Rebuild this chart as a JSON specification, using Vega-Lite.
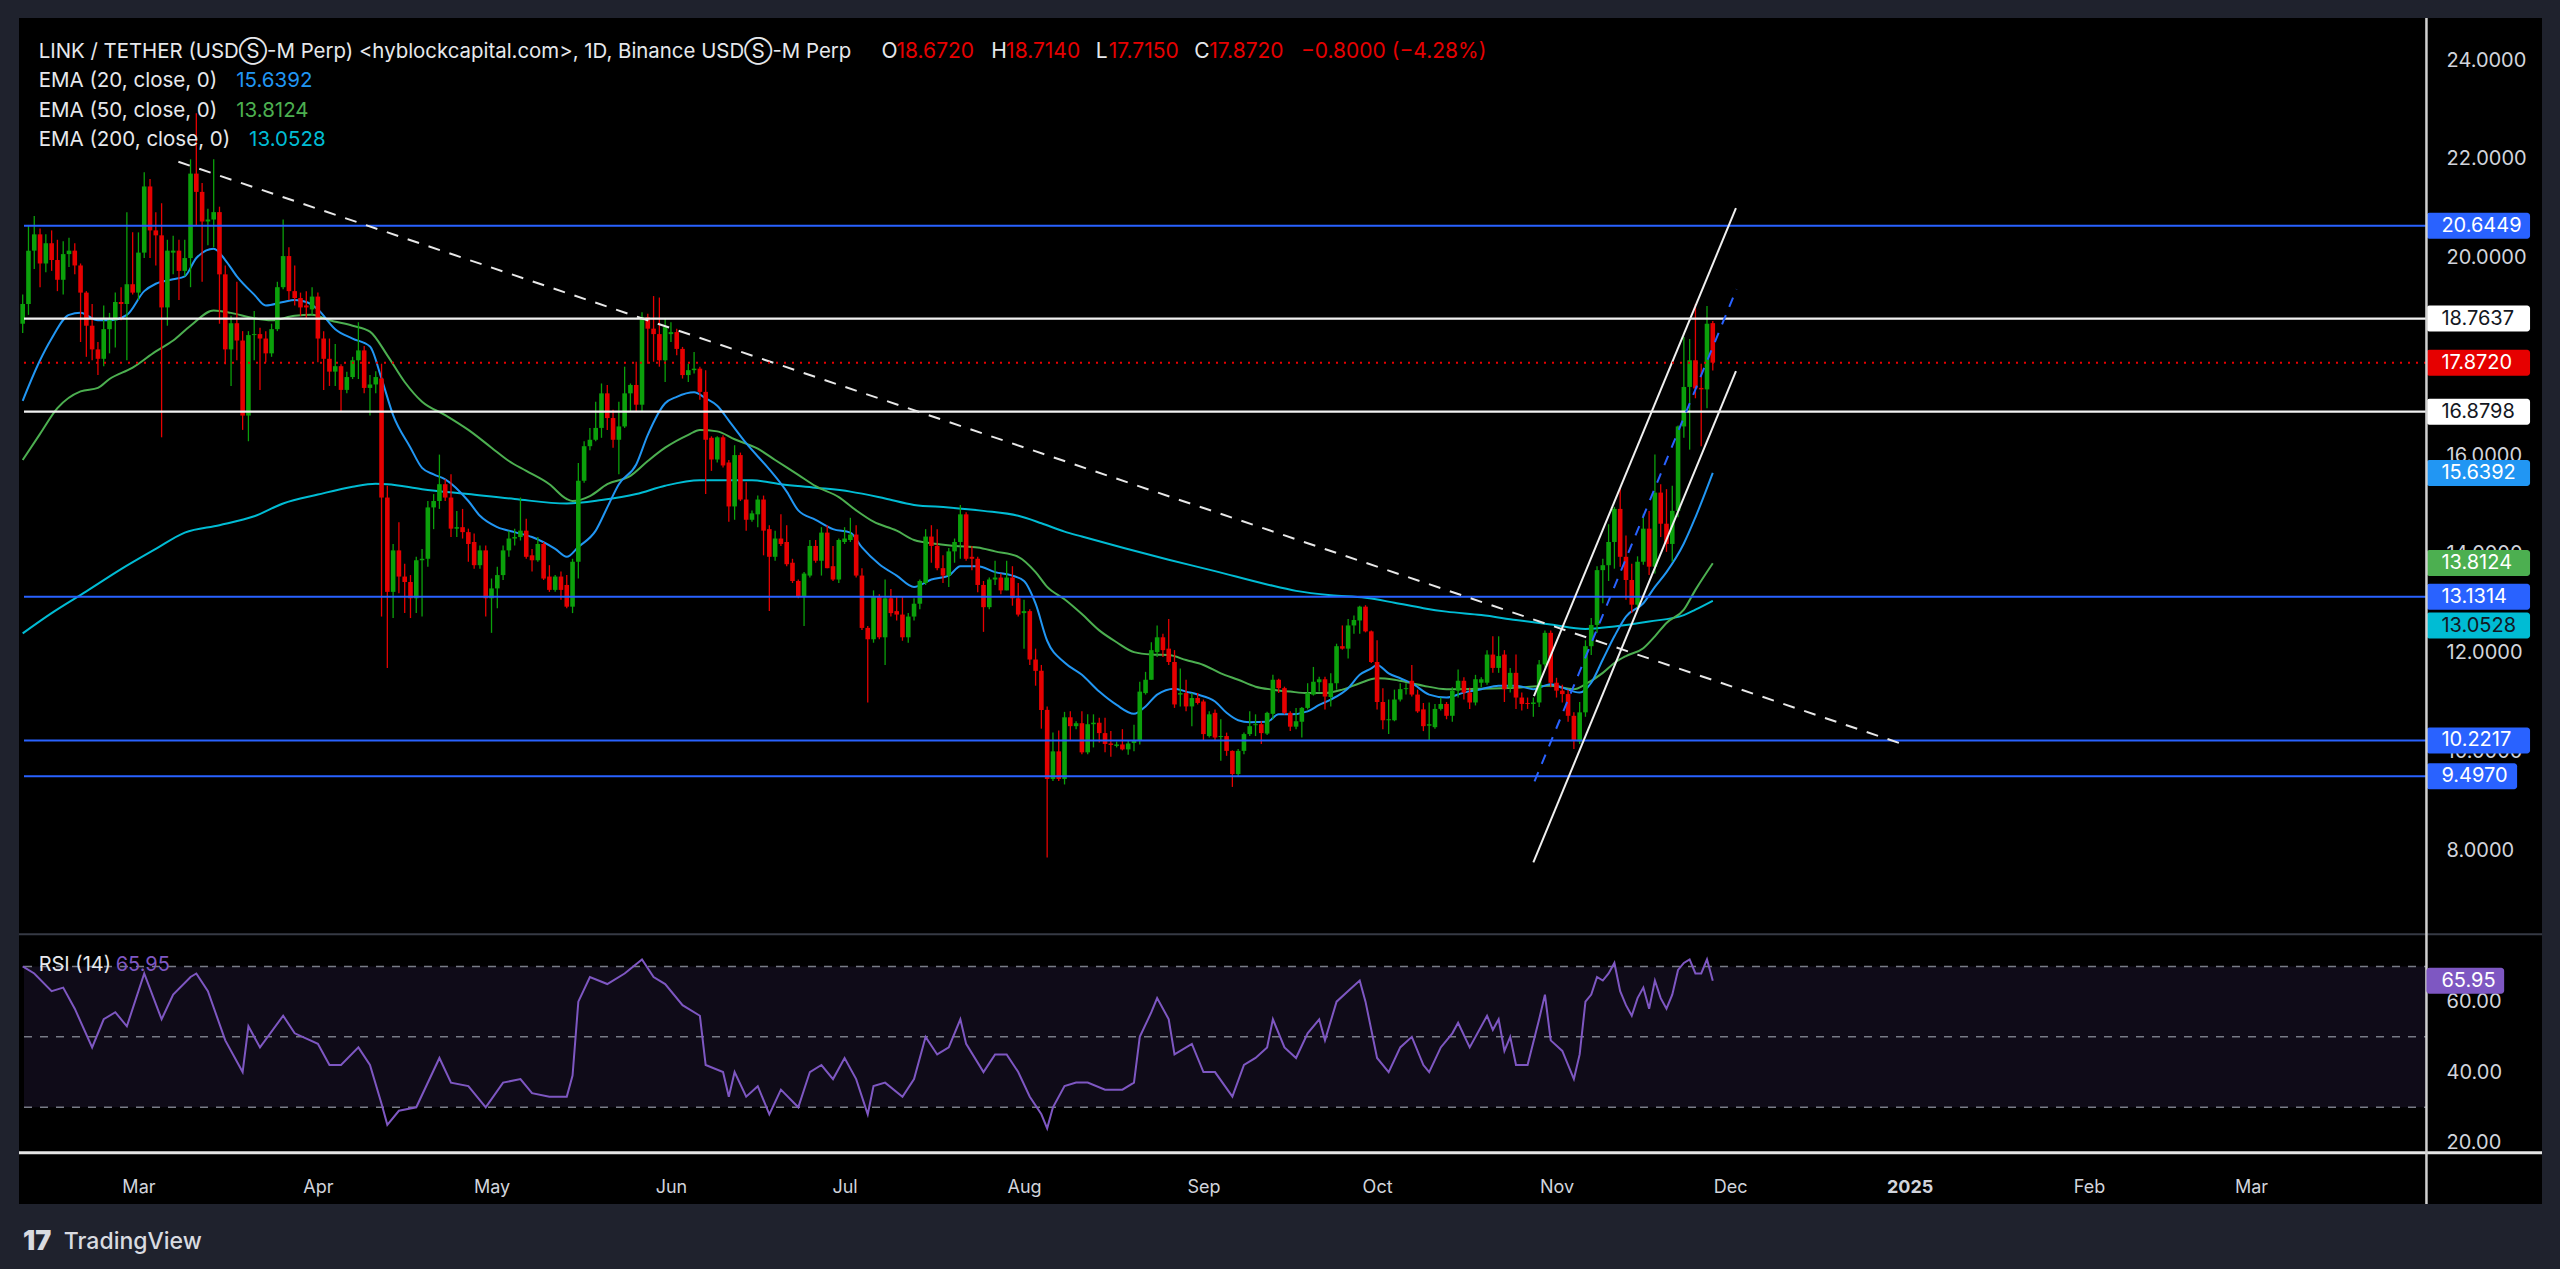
{
"$schema": "https://vega.github.io/schema/vega-lite/v6.json",
"width": 2523, "height": 1186,
"autosize": {"type": "none"},
"padding": {"left": 19, "top": 18, "right": 18, "bottom": 65},
"background": "#1f222d",
"config": {"view": {"fill": "#000000", "stroke": null}, "font": "Inter", "text": {"font": "Inter"}},
"datasets": {
"one": [{}],
"candles": [
{"d":"2024-02-10","o":18.66,"h":19.25,"l":18.47,"c":19.06},
{"d":"2024-02-11","o":19.06,"h":20.66,"l":18.84,"c":20.14},
{"d":"2024-02-12","o":20.14,"h":20.84,"l":19.77,"c":20.47},
{"d":"2024-02-13","o":20.47,"h":20.59,"l":19.40,"c":19.88},
{"d":"2024-02-14","o":19.88,"h":20.47,"l":19.70,"c":20.29},
{"d":"2024-02-15","o":20.29,"h":20.55,"l":19.73,"c":19.95},
{"d":"2024-02-16","o":19.95,"h":20.36,"l":19.32,"c":19.55},
{"d":"2024-02-17","o":19.55,"h":20.33,"l":19.25,"c":20.07},
{"d":"2024-02-18","o":20.07,"h":20.40,"l":19.81,"c":20.14},
{"d":"2024-02-19","o":20.14,"h":20.29,"l":19.66,"c":19.84},
{"d":"2024-02-20","o":19.84,"h":19.88,"l":18.29,"c":19.29},
{"d":"2024-02-21","o":19.29,"h":19.32,"l":17.99,"c":18.62},
{"d":"2024-02-22","o":18.62,"h":19.06,"l":17.92,"c":18.14},
{"d":"2024-02-23","o":18.14,"h":18.29,"l":17.62,"c":17.95},
{"d":"2024-02-24","o":17.95,"h":19.03,"l":17.80,"c":18.55},
{"d":"2024-02-25","o":18.55,"h":18.88,"l":18.06,"c":18.73},
{"d":"2024-02-26","o":18.73,"h":19.29,"l":18.18,"c":19.10},
{"d":"2024-02-27","o":19.10,"h":19.40,"l":18.73,"c":19.06},
{"d":"2024-02-28","o":19.06,"h":20.92,"l":17.92,"c":19.46},
{"d":"2024-02-29","o":19.46,"h":20.51,"l":19.25,"c":19.29},
{"d":"2024-03-01","o":19.29,"h":20.51,"l":19.14,"c":20.10},
{"d":"2024-03-02","o":20.10,"h":21.73,"l":19.99,"c":21.44},
{"d":"2024-03-03","o":21.44,"h":21.59,"l":19.99,"c":20.55},
{"d":"2024-03-04","o":20.55,"h":20.92,"l":19.84,"c":20.45},
{"d":"2024-03-05","o":20.45,"h":21.10,"l":16.36,"c":18.99},
{"d":"2024-03-06","o":18.99,"h":20.36,"l":18.62,"c":20.14},
{"d":"2024-03-07","o":20.10,"h":20.44,"l":19.66,"c":20.14},
{"d":"2024-03-08","o":20.14,"h":20.36,"l":19.14,"c":19.73},
{"d":"2024-03-09","o":19.73,"h":20.36,"l":19.62,"c":19.99},
{"d":"2024-03-10","o":19.99,"h":21.99,"l":19.40,"c":21.70},
{"d":"2024-03-11","o":21.70,"h":22.92,"l":20.66,"c":21.33},
{"d":"2024-03-12","o":21.33,"h":21.51,"l":19.51,"c":20.73},
{"d":"2024-03-13","o":20.73,"h":20.99,"l":20.25,"c":20.77},
{"d":"2024-03-14","o":20.77,"h":21.99,"l":20.21,"c":20.92},
{"d":"2024-03-15","o":20.92,"h":21.03,"l":18.66,"c":19.66},
{"d":"2024-03-16","o":19.66,"h":19.84,"l":17.84,"c":18.14},
{"d":"2024-03-17","o":18.14,"h":18.82,"l":17.40,"c":18.67},
{"d":"2024-03-18","o":18.67,"h":19.51,"l":17.92,"c":18.32},
{"d":"2024-03-19","o":18.32,"h":18.51,"l":16.51,"c":16.80},
{"d":"2024-03-20","o":16.80,"h":18.51,"l":16.28,"c":18.43},
{"d":"2024-03-21","o":18.43,"h":18.92,"l":17.92,"c":18.45},
{"d":"2024-03-22","o":18.45,"h":18.58,"l":17.32,"c":18.36},
{"d":"2024-03-23","o":18.36,"h":18.51,"l":17.88,"c":18.06},
{"d":"2024-03-24","o":18.06,"h":18.66,"l":17.99,"c":18.55},
{"d":"2024-03-25","o":18.55,"h":19.51,"l":18.51,"c":19.40},
{"d":"2024-03-26","o":19.40,"h":20.77,"l":19.36,"c":20.03},
{"d":"2024-03-27","o":20.03,"h":20.21,"l":19.14,"c":19.32},
{"d":"2024-03-28","o":19.32,"h":19.84,"l":19.03,"c":19.18},
{"d":"2024-03-29","o":19.18,"h":19.29,"l":18.82,"c":18.99},
{"d":"2024-03-30","o":19.03,"h":19.32,"l":18.77,"c":18.99},
{"d":"2024-03-31","o":18.95,"h":19.40,"l":18.84,"c":19.21},
{"d":"2024-04-01","o":19.21,"h":19.29,"l":17.88,"c":18.36},
{"d":"2024-04-02","o":18.36,"h":18.51,"l":17.32,"c":17.95},
{"d":"2024-04-03","o":17.95,"h":18.36,"l":17.40,"c":17.69},
{"d":"2024-04-04","o":17.69,"h":18.25,"l":17.40,"c":17.80},
{"d":"2024-04-05","o":17.80,"h":17.84,"l":16.88,"c":17.32},
{"d":"2024-04-06","o":17.32,"h":17.69,"l":17.25,"c":17.58},
{"d":"2024-04-07","o":17.58,"h":17.99,"l":17.54,"c":17.92},
{"d":"2024-04-08","o":17.92,"h":18.69,"l":17.54,"c":18.12},
{"d":"2024-04-09","o":18.12,"h":18.21,"l":17.25,"c":17.36},
{"d":"2024-04-10","o":17.36,"h":17.62,"l":16.80,"c":17.43},
{"d":"2024-04-11","o":17.43,"h":17.70,"l":17.25,"c":17.58},
{"d":"2024-04-12","o":17.55,"h":17.85,"l":12.73,"c":15.14},
{"d":"2024-04-13","o":15.14,"h":15.38,"l":11.69,"c":13.23},
{"d":"2024-04-14","o":13.23,"h":14.20,"l":12.70,"c":14.07},
{"d":"2024-04-15","o":14.07,"h":14.64,"l":13.20,"c":13.54},
{"d":"2024-04-16","o":13.54,"h":13.80,"l":12.80,"c":13.43},
{"d":"2024-04-17","o":13.43,"h":13.57,"l":12.70,"c":13.10},
{"d":"2024-04-18","o":13.10,"h":13.94,"l":12.80,"c":13.87},
{"d":"2024-04-19","o":13.87,"h":14.10,"l":12.73,"c":13.90},
{"d":"2024-04-20","o":13.90,"h":15.07,"l":13.74,"c":14.94},
{"d":"2024-04-21","o":14.94,"h":15.21,"l":14.50,"c":15.07},
{"d":"2024-04-22","o":15.07,"h":16.01,"l":14.91,"c":15.41},
{"d":"2024-04-23","o":15.41,"h":15.51,"l":15.07,"c":15.14},
{"d":"2024-04-24","o":15.14,"h":15.61,"l":14.34,"c":14.51},
{"d":"2024-04-25","o":14.51,"h":14.87,"l":14.34,"c":14.54},
{"d":"2024-04-26","o":14.54,"h":14.91,"l":14.31,"c":14.44},
{"d":"2024-04-27","o":14.44,"h":14.51,"l":13.84,"c":14.20},
{"d":"2024-04-28","o":14.24,"h":14.41,"l":13.70,"c":13.77},
{"d":"2024-04-29","o":13.77,"h":14.17,"l":13.70,"c":14.07},
{"d":"2024-04-30","o":14.07,"h":14.17,"l":12.73,"c":13.10},
{"d":"2024-05-01","o":13.10,"h":13.50,"l":12.40,"c":13.30},
{"d":"2024-05-02","o":13.30,"h":13.74,"l":12.90,"c":13.57},
{"d":"2024-05-03","o":13.57,"h":14.17,"l":13.47,"c":14.07},
{"d":"2024-05-04","o":14.07,"h":14.47,"l":13.94,"c":14.31},
{"d":"2024-05-05","o":14.31,"h":14.51,"l":14.17,"c":14.34},
{"d":"2024-05-06","o":14.34,"h":15.14,"l":14.27,"c":14.47},
{"d":"2024-05-07","o":14.47,"h":14.71,"l":13.90,"c":13.94},
{"d":"2024-05-08","o":13.97,"h":14.10,"l":13.64,"c":13.87},
{"d":"2024-05-09","o":13.87,"h":14.34,"l":13.84,"c":14.20},
{"d":"2024-05-10","o":14.20,"h":14.24,"l":13.47,"c":13.50},
{"d":"2024-05-11","o":13.54,"h":13.77,"l":13.23,"c":13.27},
{"d":"2024-05-12","o":13.27,"h":13.57,"l":13.23,"c":13.54},
{"d":"2024-05-13","o":13.54,"h":13.64,"l":13.07,"c":13.27},
{"d":"2024-05-14","o":13.37,"h":13.57,"l":12.90,"c":12.93},
{"d":"2024-05-15","o":12.93,"h":13.90,"l":12.80,"c":13.84},
{"d":"2024-05-16","o":13.84,"h":15.84,"l":13.50,"c":15.48},
{"d":"2024-05-17","o":15.48,"h":16.28,"l":15.44,"c":16.18},
{"d":"2024-05-18","o":16.18,"h":16.55,"l":16.10,"c":16.31},
{"d":"2024-05-19","o":16.31,"h":17.08,"l":16.28,"c":16.55},
{"d":"2024-05-20","o":16.55,"h":17.45,"l":16.35,"c":17.25},
{"d":"2024-05-21","o":17.25,"h":17.42,"l":16.51,"c":16.75},
{"d":"2024-05-22","o":16.75,"h":16.92,"l":16.15,"c":16.31},
{"d":"2024-05-23","o":16.31,"h":17.08,"l":15.61,"c":16.58},
{"d":"2024-05-24","o":16.58,"h":17.79,"l":16.55,"c":17.25},
{"d":"2024-05-25","o":17.25,"h":17.45,"l":16.88,"c":17.42},
{"d":"2024-05-26","o":17.42,"h":17.89,"l":16.88,"c":17.02},
{"d":"2024-05-27","o":17.02,"h":18.89,"l":16.88,"c":18.79},
{"d":"2024-05-28","o":18.79,"h":18.86,"l":17.85,"c":18.56},
{"d":"2024-05-29","o":18.56,"h":19.22,"l":17.89,"c":18.45},
{"d":"2024-05-30","o":18.45,"h":19.19,"l":17.79,"c":17.92},
{"d":"2024-05-31","o":17.92,"h":18.76,"l":17.48,"c":18.59},
{"d":"2024-06-01","o":18.45,"h":18.69,"l":18.29,"c":18.49},
{"d":"2024-06-02","o":18.49,"h":18.56,"l":18.02,"c":18.15},
{"d":"2024-06-03","o":18.15,"h":18.19,"l":17.55,"c":17.62},
{"d":"2024-06-04","o":17.62,"h":17.85,"l":17.48,"c":17.72},
{"d":"2024-06-05","o":17.72,"h":18.09,"l":17.65,"c":17.75},
{"d":"2024-06-06","o":17.75,"h":17.79,"l":17.12,"c":17.28},
{"d":"2024-06-07","o":17.28,"h":17.72,"l":15.21,"c":16.31},
{"d":"2024-06-08","o":16.35,"h":16.38,"l":15.68,"c":15.91},
{"d":"2024-06-09","o":15.91,"h":16.38,"l":15.85,"c":16.36},
{"d":"2024-06-10","o":16.36,"h":16.40,"l":15.75,"c":15.79},
{"d":"2024-06-11","o":15.85,"h":15.90,"l":14.65,"c":14.96},
{"d":"2024-06-12","o":14.96,"h":16.20,"l":14.69,"c":16.00},
{"d":"2024-06-13","o":16.00,"h":16.05,"l":15.07,"c":15.10},
{"d":"2024-06-14","o":15.10,"h":15.45,"l":14.47,"c":14.69},
{"d":"2024-06-15","o":14.69,"h":14.88,"l":14.65,"c":14.82},
{"d":"2024-06-16","o":14.80,"h":15.18,"l":14.54,"c":15.10},
{"d":"2024-06-17","o":15.10,"h":15.18,"l":13.97,"c":14.47},
{"d":"2024-06-18","o":14.50,"h":14.58,"l":12.84,"c":13.94},
{"d":"2024-06-19","o":13.94,"h":14.47,"l":13.86,"c":14.31},
{"d":"2024-06-20","o":14.31,"h":14.80,"l":14.16,"c":14.20},
{"d":"2024-06-21","o":14.24,"h":14.58,"l":13.75,"c":13.79},
{"d":"2024-06-22","o":13.82,"h":13.90,"l":13.41,"c":13.45},
{"d":"2024-06-23","o":13.45,"h":13.48,"l":13.10,"c":13.14},
{"d":"2024-06-24","o":13.14,"h":13.63,"l":12.54,"c":13.60},
{"d":"2024-06-25","o":13.56,"h":14.28,"l":13.52,"c":14.16},
{"d":"2024-06-26","o":14.16,"h":14.28,"l":13.82,"c":13.86},
{"d":"2024-06-27","o":13.86,"h":14.54,"l":13.56,"c":14.43},
{"d":"2024-06-28","o":14.43,"h":14.58,"l":13.71,"c":13.71},
{"d":"2024-06-29","o":13.75,"h":14.16,"l":13.45,"c":13.48},
{"d":"2024-06-30","o":13.48,"h":14.31,"l":13.41,"c":14.28},
{"d":"2024-07-01","o":14.24,"h":14.54,"l":14.20,"c":14.31},
{"d":"2024-07-02","o":14.28,"h":14.73,"l":14.24,"c":14.39},
{"d":"2024-07-03","o":14.39,"h":14.58,"l":13.52,"c":13.56},
{"d":"2024-07-04","o":13.56,"h":13.71,"l":12.46,"c":12.50},
{"d":"2024-07-05","o":12.50,"h":12.54,"l":10.99,"c":12.27},
{"d":"2024-07-06","o":12.27,"h":13.26,"l":12.20,"c":13.14},
{"d":"2024-07-07","o":13.14,"h":13.18,"l":12.27,"c":12.31},
{"d":"2024-07-08","o":12.31,"h":13.48,"l":11.75,"c":13.10},
{"d":"2024-07-09","o":13.10,"h":13.29,"l":12.73,"c":12.80},
{"d":"2024-07-10","o":12.84,"h":13.14,"l":12.65,"c":12.77},
{"d":"2024-07-11","o":12.77,"h":13.14,"l":12.24,"c":12.31},
{"d":"2024-07-12","o":12.31,"h":12.80,"l":12.20,"c":12.73},
{"d":"2024-07-13","o":12.73,"h":13.10,"l":12.65,"c":12.99},
{"d":"2024-07-14","o":12.99,"h":13.48,"l":12.88,"c":13.45},
{"d":"2024-07-15","o":13.41,"h":14.50,"l":13.37,"c":14.35},
{"d":"2024-07-16","o":14.35,"h":14.58,"l":13.82,"c":14.16},
{"d":"2024-07-17","o":14.16,"h":14.50,"l":13.67,"c":13.71},
{"d":"2024-07-18","o":13.71,"h":13.97,"l":13.41,"c":13.56},
{"d":"2024-07-19","o":13.56,"h":14.12,"l":13.33,"c":14.05},
{"d":"2024-07-20","o":14.05,"h":14.31,"l":13.82,"c":14.24},
{"d":"2024-07-21","o":14.24,"h":14.99,"l":13.90,"c":14.80},
{"d":"2024-07-22","o":14.80,"h":14.84,"l":13.86,"c":13.90},
{"d":"2024-07-23","o":13.94,"h":14.16,"l":13.67,"c":13.90},
{"d":"2024-07-24","o":13.90,"h":13.94,"l":13.22,"c":13.37},
{"d":"2024-07-25","o":13.37,"h":13.45,"l":12.42,"c":12.92},
{"d":"2024-07-26","o":12.92,"h":13.52,"l":12.88,"c":13.48},
{"d":"2024-07-27","o":13.48,"h":13.86,"l":13.37,"c":13.52},
{"d":"2024-07-28","o":13.52,"h":13.60,"l":13.18,"c":13.26},
{"d":"2024-07-29","o":13.26,"h":13.86,"l":13.26,"c":13.52},
{"d":"2024-07-30","o":13.52,"h":13.75,"l":12.95,"c":13.10},
{"d":"2024-07-31","o":13.10,"h":13.41,"l":12.73,"c":12.77},
{"d":"2024-08-01","o":12.80,"h":13.07,"l":12.08,"c":12.84},
{"d":"2024-08-02","o":12.84,"h":12.88,"l":11.75,"c":11.86},
{"d":"2024-08-03","o":11.86,"h":12.08,"l":11.33,"c":11.63},
{"d":"2024-08-04","o":11.63,"h":11.75,"l":10.46,"c":10.84},
{"d":"2024-08-05","o":10.84,"h":10.91,"l":7.85,"c":9.44},
{"d":"2024-08-06","o":9.44,"h":10.38,"l":9.40,"c":10.00},
{"d":"2024-08-07","o":10.00,"h":10.42,"l":9.40,"c":9.44},
{"d":"2024-08-08","o":9.44,"h":10.80,"l":9.33,"c":10.69},
{"d":"2024-08-09","o":10.69,"h":10.81,"l":10.21,"c":10.51},
{"d":"2024-08-10","o":10.51,"h":10.61,"l":10.45,"c":10.57},
{"d":"2024-08-11","o":10.57,"h":10.81,"l":9.94,"c":9.98},
{"d":"2024-08-12","o":9.98,"h":10.75,"l":9.94,"c":10.55},
{"d":"2024-08-13","o":10.55,"h":10.75,"l":10.08,"c":10.58},
{"d":"2024-08-14","o":10.58,"h":10.68,"l":10.18,"c":10.37},
{"d":"2024-08-15","o":10.37,"h":10.68,"l":9.98,"c":10.15},
{"d":"2024-08-16","o":10.16,"h":10.41,"l":9.89,"c":10.13},
{"d":"2024-08-17","o":10.11,"h":10.20,"l":10.08,"c":10.14},
{"d":"2024-08-18","o":10.14,"h":10.45,"l":10.02,"c":10.04},
{"d":"2024-08-19","o":10.04,"h":10.22,"l":9.93,"c":10.16},
{"d":"2024-08-20","o":10.17,"h":10.54,"l":10.00,"c":10.22},
{"d":"2024-08-21","o":10.22,"h":11.41,"l":10.14,"c":11.21},
{"d":"2024-08-22","o":11.18,"h":11.61,"l":11.15,"c":11.45},
{"d":"2024-08-23","o":11.45,"h":12.21,"l":11.45,"c":12.05},
{"d":"2024-08-24","o":12.01,"h":12.55,"l":11.91,"c":12.31},
{"d":"2024-08-25","o":12.31,"h":12.38,"l":11.91,"c":12.05},
{"d":"2024-08-26","o":12.08,"h":12.68,"l":11.75,"c":11.81},
{"d":"2024-08-27","o":11.81,"h":12.05,"l":10.88,"c":10.95},
{"d":"2024-08-28","o":11.15,"h":11.68,"l":10.91,"c":11.18},
{"d":"2024-08-29","o":11.18,"h":11.45,"l":10.81,"c":10.91},
{"d":"2024-08-30","o":10.91,"h":11.18,"l":10.51,"c":11.08},
{"d":"2024-08-31","o":11.08,"h":11.18,"l":10.95,"c":10.98},
{"d":"2024-09-01","o":11.01,"h":11.05,"l":10.23,"c":10.35},
{"d":"2024-09-02","o":10.31,"h":10.81,"l":10.28,"c":10.75},
{"d":"2024-09-03","o":10.78,"h":10.85,"l":10.21,"c":10.28},
{"d":"2024-09-04","o":10.29,"h":10.65,"l":9.81,"c":10.31},
{"d":"2024-09-05","o":10.31,"h":10.38,"l":9.91,"c":10.01},
{"d":"2024-09-06","o":10.01,"h":10.02,"l":9.28,"c":9.54},
{"d":"2024-09-07","o":9.54,"h":10.05,"l":9.50,"c":10.01},
{"d":"2024-09-08","o":10.01,"h":10.38,"l":9.94,"c":10.35},
{"d":"2024-09-09","o":10.35,"h":10.81,"l":10.31,"c":10.51},
{"d":"2024-09-10","o":10.53,"h":10.75,"l":10.31,"c":10.55},
{"d":"2024-09-11","o":10.55,"h":10.61,"l":10.15,"c":10.37},
{"d":"2024-09-12","o":10.36,"h":10.80,"l":10.33,"c":10.78},
{"d":"2024-09-13","o":10.76,"h":11.55,"l":10.65,"c":11.45},
{"d":"2024-09-14","o":11.45,"h":11.47,"l":11.18,"c":11.28},
{"d":"2024-09-15","o":11.28,"h":11.31,"l":10.75,"c":10.78},
{"d":"2024-09-16","o":10.78,"h":10.81,"l":10.41,"c":10.50},
{"d":"2024-09-17","o":10.50,"h":10.88,"l":10.45,"c":10.61},
{"d":"2024-09-18","o":10.60,"h":10.90,"l":10.28,"c":10.88},
{"d":"2024-09-19","o":10.88,"h":11.38,"l":10.85,"c":11.18},
{"d":"2024-09-20","o":11.15,"h":11.71,"l":11.13,"c":11.41},
{"d":"2024-09-21","o":11.40,"h":11.51,"l":11.21,"c":11.46},
{"d":"2024-09-22","o":11.46,"h":11.51,"l":10.85,"c":11.11},
{"d":"2024-09-23","o":11.10,"h":11.58,"l":10.91,"c":11.38},
{"d":"2024-09-24","o":11.38,"h":12.18,"l":11.25,"c":12.13},
{"d":"2024-09-25","o":12.13,"h":12.55,"l":12.06,"c":12.08},
{"d":"2024-09-26","o":12.08,"h":12.68,"l":11.88,"c":12.55},
{"d":"2024-09-27","o":12.55,"h":12.75,"l":12.38,"c":12.66},
{"d":"2024-09-28","o":12.65,"h":12.95,"l":12.38,"c":12.93},
{"d":"2024-09-29","o":12.93,"h":12.96,"l":12.41,"c":12.43},
{"d":"2024-09-30","o":12.43,"h":12.45,"l":11.79,"c":11.81},
{"d":"2024-10-01","o":11.81,"h":12.25,"l":10.85,"c":11.00},
{"d":"2024-10-02","o":11.00,"h":11.28,"l":10.45,"c":10.63},
{"d":"2024-10-03","o":10.63,"h":11.05,"l":10.35,"c":10.65},
{"d":"2024-10-04","o":10.63,"h":11.25,"l":10.61,"c":11.05},
{"d":"2024-10-05","o":11.05,"h":11.38,"l":11.01,"c":11.26},
{"d":"2024-10-06","o":11.26,"h":11.38,"l":11.15,"c":11.28},
{"d":"2024-10-07","o":11.43,"h":11.75,"l":11.11,"c":11.15},
{"d":"2024-10-08","o":11.15,"h":11.25,"l":10.78,"c":10.81},
{"d":"2024-10-09","o":10.85,"h":10.98,"l":10.41,"c":10.51},
{"d":"2024-10-10","o":10.52,"h":10.99,"l":10.22,"c":10.55},
{"d":"2024-10-11","o":10.49,"h":10.96,"l":10.46,"c":10.86},
{"d":"2024-10-12","o":10.86,"h":11.09,"l":10.83,"c":10.96},
{"d":"2024-10-13","o":10.96,"h":11.00,"l":10.65,"c":10.72},
{"d":"2024-10-14","o":10.72,"h":11.30,"l":10.60,"c":11.23},
{"d":"2024-10-15","o":11.23,"h":11.66,"l":11.09,"c":11.43},
{"d":"2024-10-16","o":11.43,"h":11.50,"l":11.05,"c":11.19},
{"d":"2024-10-17","o":11.19,"h":11.29,"l":10.86,"c":10.99},
{"d":"2024-10-18","o":10.99,"h":11.55,"l":10.93,"c":11.46},
{"d":"2024-10-19","o":11.39,"h":11.50,"l":11.30,"c":11.46},
{"d":"2024-10-20","o":11.39,"h":12.05,"l":11.35,"c":11.96},
{"d":"2024-10-21","o":11.96,"h":12.33,"l":11.59,"c":11.69},
{"d":"2024-10-22","o":11.69,"h":12.33,"l":11.59,"c":11.93},
{"d":"2024-10-23","o":11.96,"h":12.05,"l":11.00,"c":11.26},
{"d":"2024-10-24","o":11.29,"h":11.69,"l":11.19,"c":11.59},
{"d":"2024-10-25","o":11.59,"h":11.96,"l":10.86,"c":11.09},
{"d":"2024-10-26","o":11.09,"h":11.19,"l":10.83,"c":10.96},
{"d":"2024-10-27","o":10.98,"h":11.09,"l":10.86,"c":10.96},
{"d":"2024-10-28","o":10.96,"h":11.09,"l":10.70,"c":10.99},
{"d":"2024-10-29","o":10.99,"h":11.85,"l":10.90,"c":11.76},
{"d":"2024-10-30","o":11.76,"h":12.45,"l":11.70,"c":12.40},
{"d":"2024-10-31","o":12.40,"h":12.45,"l":11.30,"c":11.39},
{"d":"2024-11-01","o":11.39,"h":11.49,"l":11.09,"c":11.23},
{"d":"2024-11-02","o":11.23,"h":11.35,"l":10.99,"c":11.16},
{"d":"2024-11-03","o":11.16,"h":11.25,"l":10.60,"c":10.72},
{"d":"2024-11-04","o":10.72,"h":10.79,"l":10.05,"c":10.22},
{"d":"2024-11-05","o":10.20,"h":11.00,"l":10.15,"c":10.79},
{"d":"2024-11-06","o":10.79,"h":12.25,"l":10.70,"c":12.13},
{"d":"2024-11-07","o":12.13,"h":12.70,"l":11.95,"c":12.56},
{"d":"2024-11-08","o":12.56,"h":13.75,"l":12.40,"c":13.67},
{"d":"2024-11-09","o":13.67,"h":13.90,"l":13.00,"c":13.77},
{"d":"2024-11-10","o":13.77,"h":14.60,"l":13.45,"c":14.24},
{"d":"2024-11-11","o":14.24,"h":14.95,"l":13.70,"c":14.91},
{"d":"2024-11-12","o":14.91,"h":15.34,"l":13.74,"c":13.94},
{"d":"2024-11-13","o":13.94,"h":14.37,"l":13.07,"c":13.47},
{"d":"2024-11-14","o":13.47,"h":13.80,"l":12.80,"c":12.97},
{"d":"2024-11-15","o":12.97,"h":13.95,"l":12.90,"c":13.84},
{"d":"2024-11-16","o":13.84,"h":14.81,"l":13.78,"c":14.51},
{"d":"2024-11-17","o":14.51,"h":14.87,"l":13.57,"c":13.74},
{"d":"2024-11-18","o":13.74,"h":16.01,"l":13.60,"c":15.24},
{"d":"2024-11-19","o":15.24,"h":15.41,"l":14.34,"c":14.61},
{"d":"2024-11-20","o":14.61,"h":15.31,"l":14.04,"c":14.20},
{"d":"2024-11-21","o":14.20,"h":15.38,"l":13.84,"c":14.87},
{"d":"2024-11-22","o":14.87,"h":16.60,"l":14.74,"c":16.58},
{"d":"2024-11-23","o":16.58,"h":18.39,"l":16.35,"c":17.38},
{"d":"2024-11-24","o":17.38,"h":18.35,"l":16.11,"c":17.92},
{"d":"2024-11-25","o":17.92,"h":19.06,"l":17.15,"c":17.35},
{"d":"2024-11-26","o":17.36,"h":17.85,"l":16.18,"c":17.33},
{"d":"2024-11-27","o":17.33,"h":19.02,"l":16.95,"c":18.66},
{"d":"2024-11-28","o":18.672,"h":18.714,"l":17.715,"c":17.872}
],
"ema20": [
{"d":"2024-02-10","v":17.1},{"d":"2024-02-13","v":17.92},{"d":"2024-02-15","v":18.36},{"d":"2024-02-18","v":18.84},{"d":"2024-02-20","v":18.88},{"d":"2024-02-23","v":18.73},{"d":"2024-02-25","v":18.73},{"d":"2024-02-28","v":18.84},{"d":"2024-03-02","v":19.32},{"d":"2024-03-04","v":19.47},{"d":"2024-03-07","v":19.56},{"d":"2024-03-09","v":19.62},{"d":"2024-03-11","v":19.99},{"d":"2024-03-14","v":20.18},{"d":"2024-03-16","v":19.95},{"d":"2024-03-18","v":19.62},{"d":"2024-03-21","v":19.25},{"d":"2024-03-23","v":19.03},{"d":"2024-03-26","v":19.10},{"d":"2024-03-28","v":19.14},{"d":"2024-03-30","v":19.10},{"d":"2024-04-01","v":18.95},{"d":"2024-04-04","v":18.55},{"d":"2024-04-07","v":18.36},{"d":"2024-04-10","v":18.2},{"d":"2024-04-12","v":17.55},{"d":"2024-04-14","v":16.81},{"d":"2024-04-17","v":16.15},{"d":"2024-04-19","v":15.74},{"d":"2024-04-21","v":15.61},{"d":"2024-04-23","v":15.51},{"d":"2024-04-27","v":15.07},{"d":"2024-04-29","v":14.77},{"d":"2024-05-02","v":14.54},{"d":"2024-05-05","v":14.44},{"d":"2024-05-08","v":14.34},{"d":"2024-05-12","v":14.1},{"d":"2024-05-14","v":13.94},{"d":"2024-05-16","v":14.14},{"d":"2024-05-19","v":14.47},{"d":"2024-05-21","v":14.94},{"d":"2024-05-23","v":15.41},{"d":"2024-05-26","v":15.81},{"d":"2024-05-28","v":16.41},{"d":"2024-05-31","v":17.05},{"d":"2024-06-02","v":17.18},{"d":"2024-06-05","v":17.27},{"d":"2024-06-07","v":17.15},{"d":"2024-06-09","v":17.0},{"d":"2024-06-11","v":16.7},{"d":"2024-06-14","v":16.24},{"d":"2024-06-18","v":15.71},{"d":"2024-06-21","v":15.26},{"d":"2024-06-23","v":14.88},{"d":"2024-06-26","v":14.69},{"d":"2024-06-29","v":14.5},{"d":"2024-07-02","v":14.43},{"d":"2024-07-04","v":14.13},{"d":"2024-07-07","v":13.79},{"d":"2024-07-10","v":13.56},{"d":"2024-07-13","v":13.33},{"d":"2024-07-16","v":13.48},{"d":"2024-07-19","v":13.56},{"d":"2024-07-21","v":13.75},{"d":"2024-07-24","v":13.75},{"d":"2024-07-27","v":13.63},{"d":"2024-07-30","v":13.56},{"d":"2024-08-01","v":13.45},{"d":"2024-08-03","v":12.99},{"d":"2024-08-05","v":12.24},{"d":"2024-08-08","v":11.8},{"d":"2024-08-11","v":11.55},{"d":"2024-08-14","v":11.21},{"d":"2024-08-17","v":10.94},{"d":"2024-08-20","v":10.76},{"d":"2024-08-22","v":10.91},{"d":"2024-08-24","v":11.15},{"d":"2024-08-27","v":11.27},{"d":"2024-08-29","v":11.21},{"d":"2024-08-31","v":11.15},{"d":"2024-09-03","v":11.01},{"d":"2024-09-05","v":10.78},{"d":"2024-09-07","v":10.63},{"d":"2024-09-09","v":10.59},{"d":"2024-09-12","v":10.6},{"d":"2024-09-14","v":10.75},{"d":"2024-09-16","v":10.75},{"d":"2024-09-19","v":10.81},{"d":"2024-09-21","v":10.94},{"d":"2024-09-23","v":11.05},{"d":"2024-09-26","v":11.28},{"d":"2024-09-28","v":11.55},{"d":"2024-09-30","v":11.68},{"d":"2024-10-01","v":11.75},{"d":"2024-10-03","v":11.58},{"d":"2024-10-05","v":11.48},{"d":"2024-10-07","v":11.38},{"d":"2024-10-10","v":11.15},{"d":"2024-10-13","v":11.09},{"d":"2024-10-16","v":11.19},{"d":"2024-10-19","v":11.26},{"d":"2024-10-22","v":11.33},{"d":"2024-10-25","v":11.33},{"d":"2024-10-28","v":11.26},{"d":"2024-10-31","v":11.36},{"d":"2024-11-02","v":11.29},{"d":"2024-11-05","v":11.19},{"d":"2024-11-07","v":11.39},{"d":"2024-11-09","v":11.86},{"d":"2024-11-11","v":12.33},{"d":"2024-11-13","v":12.73},{"d":"2024-11-16","v":13.0},{"d":"2024-11-18","v":13.33},{"d":"2024-11-20","v":13.63},{"d":"2024-11-23","v":14.21},{"d":"2024-11-25","v":14.74},{"d":"2024-11-28","v":15.64}
],
"ema50": [
{"d":"2024-02-10","v":15.9},{"d":"2024-02-13","v":16.43},{"d":"2024-02-16","v":16.95},{"d":"2024-02-20","v":17.29},{"d":"2024-02-23","v":17.36},{"d":"2024-02-25","v":17.54},{"d":"2024-02-29","v":17.77},{"d":"2024-03-04","v":18.1},{"d":"2024-03-07","v":18.32},{"d":"2024-03-10","v":18.62},{"d":"2024-03-14","v":18.93},{"d":"2024-03-17","v":18.88},{"d":"2024-03-21","v":18.77},{"d":"2024-03-24","v":18.73},{"d":"2024-03-28","v":18.82},{"d":"2024-03-31","v":18.84},{"d":"2024-04-03","v":18.73},{"d":"2024-04-07","v":18.62},{"d":"2024-04-10","v":18.5},{"d":"2024-04-13","v":18.02},{"d":"2024-04-16","v":17.48},{"d":"2024-04-19","v":17.08},{"d":"2024-04-23","v":16.81},{"d":"2024-04-27","v":16.51},{"d":"2024-05-01","v":16.15},{"d":"2024-05-04","v":15.88},{"d":"2024-05-07","v":15.68},{"d":"2024-05-11","v":15.41},{"d":"2024-05-14","v":15.11},{"d":"2024-05-15","v":15.07},{"d":"2024-05-18","v":15.17},{"d":"2024-05-21","v":15.41},{"d":"2024-05-25","v":15.58},{"d":"2024-05-28","v":15.88},{"d":"2024-05-31","v":16.15},{"d":"2024-06-04","v":16.41},{"d":"2024-06-06","v":16.51},{"d":"2024-06-09","v":16.48},{"d":"2024-06-12","v":16.32},{"d":"2024-06-16","v":16.13},{"d":"2024-06-19","v":15.9},{"d":"2024-06-23","v":15.6},{"d":"2024-06-26","v":15.37},{"d":"2024-06-30","v":15.15},{"d":"2024-07-03","v":14.88},{"d":"2024-07-06","v":14.65},{"d":"2024-07-10","v":14.47},{"d":"2024-07-13","v":14.28},{"d":"2024-07-17","v":14.2},{"d":"2024-07-20","v":14.16},{"d":"2024-07-24","v":14.13},{"d":"2024-07-27","v":14.05},{"d":"2024-07-31","v":13.94},{"d":"2024-08-03","v":13.63},{"d":"2024-08-05","v":13.33},{"d":"2024-08-08","v":13.08},{"d":"2024-08-11","v":12.78},{"d":"2024-08-14","v":12.45},{"d":"2024-08-17","v":12.21},{"d":"2024-08-20","v":12.01},{"d":"2024-08-23","v":11.96},{"d":"2024-08-26","v":11.95},{"d":"2024-08-29","v":11.85},{"d":"2024-09-01","v":11.75},{"d":"2024-09-04","v":11.58},{"d":"2024-09-07","v":11.45},{"d":"2024-09-10","v":11.31},{"d":"2024-09-13","v":11.25},{"d":"2024-09-16","v":11.21},{"d":"2024-09-19","v":11.18},{"d":"2024-09-22","v":11.18},{"d":"2024-09-25","v":11.25},{"d":"2024-09-28","v":11.38},{"d":"2024-10-01","v":11.48},{"d":"2024-10-04","v":11.45},{"d":"2024-10-07","v":11.38},{"d":"2024-10-09","v":11.33},{"d":"2024-10-13","v":11.26},{"d":"2024-10-19","v":11.27},{"d":"2024-10-25","v":11.29},{"d":"2024-10-31","v":11.33},{"d":"2024-11-04","v":11.26},{"d":"2024-11-06","v":11.36},{"d":"2024-11-09","v":11.59},{"d":"2024-11-11","v":11.79},{"d":"2024-11-13","v":11.93},{"d":"2024-11-16","v":12.09},{"d":"2024-11-18","v":12.33},{"d":"2024-11-20","v":12.6},{"d":"2024-11-23","v":12.87},{"d":"2024-11-25","v":13.27},{"d":"2024-11-28","v":13.81}
],
"ema200": [
{"d":"2024-02-10","v":12.39},{"d":"2024-02-15","v":12.8},{"d":"2024-02-21","v":13.24},{"d":"2024-02-27","v":13.69},{"d":"2024-03-04","v":14.1},{"d":"2024-03-09","v":14.43},{"d":"2024-03-15","v":14.58},{"d":"2024-03-21","v":14.76},{"d":"2024-03-26","v":15.02},{"d":"2024-04-01","v":15.2},{"d":"2024-04-07","v":15.36},{"d":"2024-04-11","v":15.42},{"d":"2024-04-13","v":15.41},{"d":"2024-04-19","v":15.31},{"d":"2024-04-27","v":15.21},{"d":"2024-05-05","v":15.11},{"d":"2024-05-14","v":15.02},{"d":"2024-05-20","v":15.09},{"d":"2024-05-26","v":15.21},{"d":"2024-05-31","v":15.38},{"d":"2024-06-06","v":15.49},{"d":"2024-06-15","v":15.49},{"d":"2024-06-20","v":15.41},{"d":"2024-06-26","v":15.34},{"d":"2024-07-02","v":15.26},{"d":"2024-07-08","v":15.12},{"d":"2024-07-13","v":14.99},{"d":"2024-07-19","v":14.94},{"d":"2024-07-25","v":14.87},{"d":"2024-07-31","v":14.77},{"d":"2024-08-04","v":14.62},{"d":"2024-08-08","v":14.45},{"d":"2024-08-11","v":14.35},{"d":"2024-08-26","v":13.88},{"d":"2024-09-03","v":13.65},{"d":"2024-09-12","v":13.38},{"d":"2024-09-17","v":13.25},{"d":"2024-09-23","v":13.16},{"d":"2024-09-29","v":13.11},{"d":"2024-10-04","v":13.01},{"d":"2024-10-09","v":12.9},{"d":"2024-10-13","v":12.83},{"d":"2024-10-19","v":12.76},{"d":"2024-10-25","v":12.66},{"d":"2024-10-31","v":12.57},{"d":"2024-11-06","v":12.48},{"d":"2024-11-11","v":12.53},{"d":"2024-11-17","v":12.63},{"d":"2024-11-23","v":12.76},{"d":"2024-11-25","v":12.87},{"d":"2024-11-28","v":13.05}
],
"rsi": [
{"d":"2024-02-10","v":70},{"d":"2024-02-12","v":68},{"d":"2024-02-15","v":63},{"d":"2024-02-17","v":64},{"d":"2024-02-19","v":58},{"d":"2024-02-22","v":47},{"d":"2024-02-24","v":55},{"d":"2024-02-26","v":57},{"d":"2024-02-28","v":53},{"d":"2024-03-02","v":68},{"d":"2024-03-05","v":55},{"d":"2024-03-07","v":62},{"d":"2024-03-10","v":67},{"d":"2024-03-11","v":68},{"d":"2024-03-13","v":63},{"d":"2024-03-16","v":49},{"d":"2024-03-19","v":40},{"d":"2024-03-20","v":53},{"d":"2024-03-22","v":47},{"d":"2024-03-26","v":56},{"d":"2024-03-28","v":51},{"d":"2024-04-01","v":48},{"d":"2024-04-03","v":42},{"d":"2024-04-05","v":42},{"d":"2024-04-08","v":47},{"d":"2024-04-10","v":42},{"d":"2024-04-12","v":31},{"d":"2024-04-13","v":25},{"d":"2024-04-15","v":29},{"d":"2024-04-18","v":30},{"d":"2024-04-22","v":44},{"d":"2024-04-24","v":37},{"d":"2024-04-27","v":36},{"d":"2024-04-30","v":30},{"d":"2024-05-03","v":37},{"d":"2024-05-06","v":38},{"d":"2024-05-08","v":34},{"d":"2024-05-11","v":33},{"d":"2024-05-14","v":33},{"d":"2024-05-15","v":39},{"d":"2024-05-16","v":60},{"d":"2024-05-18","v":67},{"d":"2024-05-21","v":65},{"d":"2024-05-24","v":68},{"d":"2024-05-27","v":72},{"d":"2024-05-29","v":67},{"d":"2024-05-31","v":65},{"d":"2024-06-03","v":59},{"d":"2024-06-06","v":56},{"d":"2024-06-07","v":42},{"d":"2024-06-10","v":40},{"d":"2024-06-11","v":33},{"d":"2024-06-12","v":40},{"d":"2024-06-14","v":33},{"d":"2024-06-16","v":36},{"d":"2024-06-18","v":28},{"d":"2024-06-20","v":35},{"d":"2024-06-23","v":30},{"d":"2024-06-25","v":40},{"d":"2024-06-27","v":42},{"d":"2024-06-29","v":38},{"d":"2024-07-01","v":44},{"d":"2024-07-03","v":38},{"d":"2024-07-05","v":28},{"d":"2024-07-06","v":36},{"d":"2024-07-08","v":37},{"d":"2024-07-11","v":33},{"d":"2024-07-13","v":38},{"d":"2024-07-15","v":50},{"d":"2024-07-17","v":45},{"d":"2024-07-19","v":47},{"d":"2024-07-21","v":55},{"d":"2024-07-22","v":48},{"d":"2024-07-25","v":40},{"d":"2024-07-27","v":45},{"d":"2024-07-29","v":45},{"d":"2024-07-31","v":40},{"d":"2024-08-02","v":33},{"d":"2024-08-04","v":28},{"d":"2024-08-05","v":24},{"d":"2024-08-06","v":30},{"d":"2024-08-08","v":36},{"d":"2024-08-10","v":37},{"d":"2024-08-12","v":37},{"d":"2024-08-15","v":35},{"d":"2024-08-18","v":35},{"d":"2024-08-20","v":37},{"d":"2024-08-21","v":50},{"d":"2024-08-23","v":57},{"d":"2024-08-24","v":61},{"d":"2024-08-26","v":55},{"d":"2024-08-27","v":45},{"d":"2024-08-30","v":48},{"d":"2024-09-01","v":40},{"d":"2024-09-03","v":40},{"d":"2024-09-06","v":33},{"d":"2024-09-08","v":42},{"d":"2024-09-10","v":44},{"d":"2024-09-12","v":47},{"d":"2024-09-13","v":55},{"d":"2024-09-15","v":47},{"d":"2024-09-17","v":44},{"d":"2024-09-19","v":51},{"d":"2024-09-21","v":55},{"d":"2024-09-22","v":49},{"d":"2024-09-24","v":60},{"d":"2024-09-26","v":63},{"d":"2024-09-28","v":66},{"d":"2024-09-29","v":60},{"d":"2024-10-01","v":44},{"d":"2024-10-03","v":40},{"d":"2024-10-05","v":47},{"d":"2024-10-07","v":50},{"d":"2024-10-09","v":42},{"d":"2024-10-10","v":40},{"d":"2024-10-12","v":47},{"d":"2024-10-14","v":51},{"d":"2024-10-15","v":54},{"d":"2024-10-17","v":47},{"d":"2024-10-20","v":56},{"d":"2024-10-21","v":52},{"d":"2024-10-22","v":55},{"d":"2024-10-23","v":46},{"d":"2024-10-24","v":50},{"d":"2024-10-25","v":42},{"d":"2024-10-27","v":42},{"d":"2024-10-29","v":55},{"d":"2024-10-30","v":62},{"d":"2024-10-31","v":49},{"d":"2024-11-02","v":46},{"d":"2024-11-04","v":38},{"d":"2024-11-05","v":45},{"d":"2024-11-06","v":60},{"d":"2024-11-07","v":62},{"d":"2024-11-08","v":67},{"d":"2024-11-09","v":66},{"d":"2024-11-10","v":68},{"d":"2024-11-11","v":71},{"d":"2024-11-12","v":63},{"d":"2024-11-13","v":59},{"d":"2024-11-14","v":56},{"d":"2024-11-15","v":61},{"d":"2024-11-16","v":64},{"d":"2024-11-17","v":58},{"d":"2024-11-18","v":66},{"d":"2024-11-19","v":61},{"d":"2024-11-20","v":58},{"d":"2024-11-21","v":62},{"d":"2024-11-22","v":69},{"d":"2024-11-23","v":71},{"d":"2024-11-24","v":72},{"d":"2024-11-25","v":68},{"d":"2024-11-26","v":68},{"d":"2024-11-27","v":72},{"d":"2024-11-28","v":65.95}
],
"blueLevels": [{"p":20.6449},{"p":13.1314},{"p":10.2217},{"p":9.497}],
"whiteLevels": [{"p":18.7637},{"p":16.8798}],
"badges": [
{"p":20.6449,"label":"20.6449","kind":"level"},
{"p":18.7637,"label":"18.7637","kind":"range"},
{"p":17.872,"label":"17.8720","kind":"close"},
{"p":16.8798,"label":"16.8798","kind":"range"},
{"p":15.6392,"label":"15.6392","kind":"ema20"},
{"p":13.8124,"label":"13.8124","kind":"ema50"},
{"p":13.1314,"label":"13.1314","kind":"level"},
{"p":10.2217,"label":"10.2217","kind":"level"}
],
"downTrend": [{"d":"2024-03-07T21:36:00Z","p":21.94},{"d":"2024-12-31T04:48:00Z","p":10.13}],
"channel": [
{"d":"2024-10-28T00:00:00Z","p":7.75,"edge":"lower"},{"d":"2024-12-02T00:00:00Z","p":17.70,"edge":"lower"},
{"d":"2024-10-28T02:24:00Z","p":11.12,"edge":"upper"},{"d":"2024-12-02T00:00:00Z","p":21.0,"edge":"upper"}
],
"channelMid": [{"d":"2024-10-28T04:48:00Z","p":9.39},{"d":"2024-12-02T02:24:00Z","p":19.36}]
},
"layer": [
{
"resolve": {"scale": {"color": "independent"}},
"layer": [
{"data": {"name": "ema200"}, "mark": {"type": "line", "color": "#00bcd4", "strokeWidth": 2, "interpolate": "monotone"},
 "encoding": {"x": {"field": "d", "type": "temporal", "scale": {"type": "utc", "domain": [1707542812800, 1745055360000]},
   "axis": {"orient": "bottom", "offset": -26, "title": null, "grid": false, "domain": false, "ticks": false, "tickSize": 0, "labelPadding": 0, "labelBaseline": "top",
     "values": [{"year":2024,"month":3,"date":1,"utc":true},{"year":2024,"month":4,"date":1,"utc":true},{"year":2024,"month":5,"date":1,"utc":true},{"year":2024,"month":6,"date":1,"utc":true},{"year":2024,"month":7,"date":1,"utc":true},{"year":2024,"month":8,"date":1,"utc":true},{"year":2024,"month":9,"date":1,"utc":true},{"year":2024,"month":10,"date":1,"utc":true},{"year":2024,"month":11,"date":1,"utc":true},{"year":2024,"month":12,"date":1,"utc":true},{"year":2025,"month":1,"date":1,"utc":true},{"year":2025,"month":2,"date":1,"utc":true},{"year":2025,"month":3,"date":1,"utc":true}],
     "labelExpr": "utcFormat(datum.value, '%m') == '01' ? utcFormat(datum.value, '%Y') : utcFormat(datum.value, '%b')",
     "labelFontWeight": {"condition": {"test": "utcFormat(datum.value, '%m') == '01'", "value": "bold"}, "value": "normal"},
     "labelColor": "#d1d4dc", "labelFontSize": 18, "labelFont": "Inter", "labelOverlap": false, "labelFlush": false}},
  "y": {"field": "v", "type": "quantitative", "scale": {"domain": [0.935, 24.75], "nice": false, "zero": false},
   "axis": {"orient": "right", "offset": -96, "title": null, "grid": false, "domain": false, "ticks": false, "tickSize": 0, "labelPadding": 0, "labelAlign": "left", "labelBaseline": "middle",
     "values": [8, 10, 12, 14, 16, 20, 22, 24], "format": ".4f", "labelColor": "#d1d4dc", "labelFontSize": 20, "labelFont": "Inter", "labelOverlap": false, "labelFlush": false}}}},
{"data": {"name": "ema50"}, "mark": {"type": "line", "color": "#4caf50", "strokeWidth": 2, "interpolate": "monotone"},
 "encoding": {"x": {"field": "d", "type": "temporal", "scale": {"type": "utc", "domain": [1707542812800, 1745055360000]}},
  "y": {"field": "v", "type": "quantitative", "scale": {"domain": [0.935, 24.75], "nice": false, "zero": false}}}},
{"data": {"name": "ema20"}, "mark": {"type": "line", "color": "#2196f3", "strokeWidth": 2, "interpolate": "monotone"},
 "encoding": {"x": {"field": "d", "type": "temporal", "scale": {"type": "utc", "domain": [1707542812800, 1745055360000]}},
  "y": {"field": "v", "type": "quantitative", "scale": {"domain": [0.935, 24.75], "nice": false, "zero": false}}}},
{"data": {"name": "candles"}, "mark": {"type": "rule", "strokeWidth": 1.3},
 "encoding": {"x": {"field": "d", "type": "temporal", "scale": {"type": "utc", "domain": [1707542812800, 1745055360000]}},
  "y": {"field": "l", "type": "quantitative", "scale": {"domain": [0.935, 24.75], "nice": false, "zero": false}},
  "y2": {"field": "h"},
  "color": {"condition": {"test": "datum.c >= datum.o", "value": "#0ba00b"}, "value": "#e60000"}}},
{"data": {"name": "candles"}, "mark": {"type": "bar", "width": 4.6},
 "encoding": {"x": {"field": "d", "type": "temporal", "scale": {"type": "utc", "domain": [1707542812800, 1745055360000]}},
  "y": {"field": "o", "type": "quantitative", "scale": {"domain": [0.935, 24.75], "nice": false, "zero": false}},
  "y2": {"field": "c"},
  "color": {"condition": {"test": "datum.c >= datum.o", "value": "#0ba00b"}, "value": "#e60000"}}},
{"data": {"name": "blueLevels"}, "mark": {"type": "rule", "color": "#2962ff", "strokeWidth": 2},
 "encoding": {"x": {"datum": 1707542812800, "type": "temporal", "scale": {"type": "utc", "domain": [1707542812800, 1745055360000]}},
  "x2": {"datum": 1743405120000},
  "y": {"field": "p", "type": "quantitative", "scale": {"domain": [0.935, 24.75], "nice": false, "zero": false}}}},
{"data": {"name": "whiteLevels"}, "mark": {"type": "rule", "color": "#f2f2f2", "strokeWidth": 2.2},
 "encoding": {"x": {"datum": 1707542812800, "type": "temporal", "scale": {"type": "utc", "domain": [1707542812800, 1745055360000]}},
  "x2": {"datum": 1743405120000},
  "y": {"field": "p", "type": "quantitative", "scale": {"domain": [0.935, 24.75], "nice": false, "zero": false}}}},
{"data": {"name": "downTrend"}, "mark": {"type": "line", "color": "#e8e8e8", "strokeWidth": 2, "strokeDash": [12, 10]},
 "encoding": {"x": {"field": "d", "type": "temporal", "scale": {"type": "utc", "domain": [1707542812800, 1745055360000]}},
  "y": {"field": "p", "type": "quantitative", "scale": {"domain": [0.935, 24.75], "nice": false, "zero": false}}}},
{"data": {"name": "channel"}, "mark": {"type": "line", "color": "#f0f0f0", "strokeWidth": 2},
 "encoding": {"x": {"field": "d", "type": "temporal", "scale": {"type": "utc", "domain": [1707542812800, 1745055360000]}},
  "y": {"field": "p", "type": "quantitative", "scale": {"domain": [0.935, 24.75], "nice": false, "zero": false}},
  "detail": {"field": "edge"}}},
{"data": {"name": "channelMid"}, "mark": {"type": "line", "color": "#2962ff", "strokeWidth": 2, "strokeDash": [10, 9]},
 "encoding": {"x": {"field": "d", "type": "temporal", "scale": {"type": "utc", "domain": [1707542812800, 1745055360000]}},
  "y": {"field": "p", "type": "quantitative", "scale": {"domain": [0.935, 24.75], "nice": false, "zero": false}}}},
{"data": {"name": "one"}, "mark": {"type": "rule", "color": "#e60000", "strokeWidth": 2, "strokeDash": [2, 6]},
 "encoding": {"x": {"datum": 1707542812800, "type": "temporal", "scale": {"type": "utc", "domain": [1707542812800, 1745055360000]}},
  "x2": {"datum": 1743405120000},
  "y": {"datum": 17.872, "type": "quantitative", "scale": {"domain": [0.935, 24.75], "nice": false, "zero": false}}}},
{"data": {"name": "badges"}, "mark": {"type": "bar", "orient": "horizontal", "height": 26, "cornerRadiusEnd": 3},
 "encoding": {"x": {"datum": 1743405120000, "type": "temporal", "scale": {"type": "utc", "domain": [1707542812800, 1745055360000]}},
  "x2": {"datum": 1744951593600},
  "y": {"field": "p", "type": "quantitative", "scale": {"domain": [0.935, 24.75], "nice": false, "zero": false}},
  "color": {"field": "kind", "type": "nominal", "legend": null, "scale": {"domain": ["level", "range", "close", "ema20", "ema50"], "range": ["#2962ff", "#ffffff", "#e60000", "#2196f3", "#4caf50"]}}}},
{"data": {"name": "badges"}, "mark": {"type": "text", "align": "left", "baseline": "middle", "fontSize": 20, "font": "Inter"},
 "encoding": {"x": {"datum": 1743628032000, "type": "temporal", "scale": {"type": "utc", "domain": [1707542812800, 1745055360000]}},
  "y": {"field": "p", "type": "quantitative", "scale": {"domain": [0.935, 24.75], "nice": false, "zero": false}},
  "text": {"field": "label"},
  "color": {"field": "kind", "type": "nominal", "legend": null, "scale": {"domain": ["level", "range", "close", "ema20", "ema50"], "range": ["#ffffff", "#131722", "#ffffff", "#ffffff", "#ffffff"]}}}},
{"data": {"name": "one"}, "mark": {"type": "bar", "orient": "horizontal", "height": 26, "cornerRadiusEnd": 3, "color": "#2962ff"},
 "encoding": {"x": {"datum": 1743405120000, "type": "temporal", "scale": {"type": "utc", "domain": [1707542812800, 1745055360000]}},
  "x2": {"datum": 1744758316800},
  "y": {"datum": 9.497, "type": "quantitative", "scale": {"domain": [0.935, 24.75], "nice": false, "zero": false}}}},
{"data": {"name": "one"}, "mark": {"type": "text", "text": "9.4970", "align": "left", "baseline": "middle", "fontSize": 20, "font": "Inter", "color": "#ffffff"},
 "encoding": {"x": {"datum": 1743628032000, "type": "temporal", "scale": {"type": "utc", "domain": [1707542812800, 1745055360000]}},
  "y": {"datum": 9.497, "type": "quantitative", "scale": {"domain": [0.935, 24.75], "nice": false, "zero": false}}}},
{"data": {"name": "one"}, "mark": {"type": "bar", "orient": "horizontal", "height": 26, "cornerRadiusEnd": 3, "color": "#00bcd4", "yOffset": 25},
 "encoding": {"x": {"datum": 1743405120000, "type": "temporal", "scale": {"type": "utc", "domain": [1707542812800, 1745055360000]}},
  "x2": {"datum": 1744951593600},
  "y": {"datum": 13.0528, "type": "quantitative", "scale": {"domain": [0.935, 24.75], "nice": false, "zero": false}}}},
{"data": {"name": "one"}, "mark": {"type": "text", "text": "13.0528", "align": "left", "baseline": "middle", "fontSize": 20, "font": "Inter", "color": "#131722", "yOffset": 25},
 "encoding": {"x": {"datum": 1743628032000, "type": "temporal", "scale": {"type": "utc", "domain": [1707542812800, 1745055360000]}},
  "y": {"datum": 13.0528, "type": "quantitative", "scale": {"domain": [0.935, 24.75], "nice": false, "zero": false}}}},
{"data": {"name": "one"}, "mark": {"type": "text", "text": "LINK / TETHER (USDⓈ-M Perp) <hyblockcapital.com>, 1D, Binance USDⓈ-M Perp", "align": "left", "baseline": "middle", "fontSize": 20.4, "font": "Inter", "color": "#e6e8ec"},
 "encoding": {"x": {"datum": 1707761404800, "type": "temporal", "scale": {"type": "utc", "domain": [1707542812800, 1745055360000]}},
  "y": {"datum": 24.17, "type": "quantitative", "scale": {"domain": [0.935, 24.75], "nice": false, "zero": false}}}},
{"data": {"name": "one"}, "mark": {"type": "text", "text": "O", "align": "left", "baseline": "middle", "fontSize": 21, "font": "Inter", "color": "#e6e8ec"},
 "encoding": {"x": {"datum": 1720344614400, "type": "temporal", "scale": {"type": "utc", "domain": [1707542812800, 1745055360000]}},
  "y": {"datum": 24.17, "type": "quantitative", "scale": {"domain": [0.935, 24.75], "nice": false, "zero": false}}}},
{"data": {"name": "one"}, "mark": {"type": "text", "text": "18.6720", "align": "left", "baseline": "middle", "fontSize": 21, "font": "Inter", "color": "#e60000"},
 "encoding": {"x": {"datum": 1720567612800, "type": "temporal", "scale": {"type": "utc", "domain": [1707542812800, 1745055360000]}},
  "y": {"datum": 24.17, "type": "quantitative", "scale": {"domain": [0.935, 24.75], "nice": false, "zero": false}}}},
{"data": {"name": "one"}, "mark": {"type": "text", "text": "H", "align": "left", "baseline": "middle", "fontSize": 21, "font": "Inter", "color": "#e6e8ec"},
 "encoding": {"x": {"datum": 1721980080000, "type": "temporal", "scale": {"type": "utc", "domain": [1707542812800, 1745055360000]}},
  "y": {"datum": 24.17, "type": "quantitative", "scale": {"domain": [0.935, 24.75], "nice": false, "zero": false}}}},
{"data": {"name": "one"}, "mark": {"type": "text", "text": "18.7140", "align": "left", "baseline": "middle", "fontSize": 21, "font": "Inter", "color": "#e60000"},
 "encoding": {"x": {"datum": 1722203078400, "type": "temporal", "scale": {"type": "utc", "domain": [1707542812800, 1745055360000]}},
  "y": {"datum": 24.17, "type": "quantitative", "scale": {"domain": [0.935, 24.75], "nice": false, "zero": false}}}},
{"data": {"name": "one"}, "mark": {"type": "text", "text": "L", "align": "left", "baseline": "middle", "fontSize": 21, "font": "Inter", "color": "#e6e8ec"},
 "encoding": {"x": {"datum": 1723541155200, "type": "temporal", "scale": {"type": "utc", "domain": [1707542812800, 1745055360000]}},
  "y": {"datum": 24.17, "type": "quantitative", "scale": {"domain": [0.935, 24.75], "nice": false, "zero": false}}}},
{"data": {"name": "one"}, "mark": {"type": "text", "text": "17.7150", "align": "left", "baseline": "middle", "fontSize": 21, "font": "Inter", "color": "#e60000"},
 "encoding": {"x": {"datum": 1723734432000, "type": "temporal", "scale": {"type": "utc", "domain": [1707542812800, 1745055360000]}},
  "y": {"datum": 24.17, "type": "quantitative", "scale": {"domain": [0.935, 24.75], "nice": false, "zero": false}}}},
{"data": {"name": "one"}, "mark": {"type": "text", "text": "C", "align": "left", "baseline": "middle", "fontSize": 21, "font": "Inter", "color": "#e6e8ec"},
 "encoding": {"x": {"datum": 1725013152000, "type": "temporal", "scale": {"type": "utc", "domain": [1707542812800, 1745055360000]}},
  "y": {"datum": 24.17, "type": "quantitative", "scale": {"domain": [0.935, 24.75], "nice": false, "zero": false}}}},
{"data": {"name": "one"}, "mark": {"type": "text", "text": "17.8720", "align": "left", "baseline": "middle", "fontSize": 21, "font": "Inter", "color": "#e60000"},
 "encoding": {"x": {"datum": 1725236150400, "type": "temporal", "scale": {"type": "utc", "domain": [1707542812800, 1745055360000]}},
  "y": {"datum": 24.17, "type": "quantitative", "scale": {"domain": [0.935, 24.75], "nice": false, "zero": false}}}},
{"data": {"name": "one"}, "mark": {"type": "text", "text": "−0.8000 (−4.28%)", "align": "left", "baseline": "middle", "fontSize": 21, "font": "Inter", "color": "#e60000"},
 "encoding": {"x": {"datum": 1726604035200, "type": "temporal", "scale": {"type": "utc", "domain": [1707542812800, 1745055360000]}},
  "y": {"datum": 24.17, "type": "quantitative", "scale": {"domain": [0.935, 24.75], "nice": false, "zero": false}}}},
{"data": {"name": "one"}, "mark": {"type": "text", "text": "EMA (20, close, 0)", "align": "left", "baseline": "middle", "fontSize": 20.5, "font": "Inter", "color": "#e6e8ec"},
 "encoding": {"x": {"datum": 1707761404800, "type": "temporal", "scale": {"type": "utc", "domain": [1707542812800, 1745055360000]}},
  "y": {"datum": 23.57, "type": "quantitative", "scale": {"domain": [0.935, 24.75], "nice": false, "zero": false}}}},
{"data": {"name": "one"}, "mark": {"type": "text", "text": "15.6392", "align": "left", "baseline": "middle", "fontSize": 20.5, "font": "Inter", "color": "#2196f3"},
 "encoding": {"x": {"datum": 1710709804800, "type": "temporal", "scale": {"type": "utc", "domain": [1707542812800, 1745055360000]}},
  "y": {"datum": 23.57, "type": "quantitative", "scale": {"domain": [0.935, 24.75], "nice": false, "zero": false}}}},
{"data": {"name": "one"}, "mark": {"type": "text", "text": "EMA (50, close, 0)", "align": "left", "baseline": "middle", "fontSize": 20.5, "font": "Inter", "color": "#e6e8ec"},
 "encoding": {"x": {"datum": 1707761404800, "type": "temporal", "scale": {"type": "utc", "domain": [1707542812800, 1745055360000]}},
  "y": {"datum": 22.96, "type": "quantitative", "scale": {"domain": [0.935, 24.75], "nice": false, "zero": false}}}},
{"data": {"name": "one"}, "mark": {"type": "text", "text": "13.8124", "align": "left", "baseline": "middle", "fontSize": 20.5, "font": "Inter", "color": "#4caf50"},
 "encoding": {"x": {"datum": 1710709804800, "type": "temporal", "scale": {"type": "utc", "domain": [1707542812800, 1745055360000]}},
  "y": {"datum": 22.96, "type": "quantitative", "scale": {"domain": [0.935, 24.75], "nice": false, "zero": false}}}},
{"data": {"name": "one"}, "mark": {"type": "text", "text": "EMA (200, close, 0)", "align": "left", "baseline": "middle", "fontSize": 20.5, "font": "Inter", "color": "#e6e8ec"},
 "encoding": {"x": {"datum": 1707761404800, "type": "temporal", "scale": {"type": "utc", "domain": [1707542812800, 1745055360000]}},
  "y": {"datum": 22.38, "type": "quantitative", "scale": {"domain": [0.935, 24.75], "nice": false, "zero": false}}}},
{"data": {"name": "one"}, "mark": {"type": "text", "text": "13.0528", "align": "left", "baseline": "middle", "fontSize": 20.5, "font": "Inter", "color": "#00bcd4"},
 "encoding": {"x": {"datum": 1710903081600, "type": "temporal", "scale": {"type": "utc", "domain": [1707542812800, 1745055360000]}},
  "y": {"datum": 22.38, "type": "quantitative", "scale": {"domain": [0.935, 24.75], "nice": false, "zero": false}}}}
]
},
{
"layer": [
{"data": {"name": "one"}, "mark": {"type": "rect", "color": "#7e57c2", "opacity": 0.12},
 "encoding": {"x": {"datum": 1707542812800, "type": "temporal", "scale": {"type": "utc", "domain": [1707542812800, 1745055360000]}},
  "x2": {"datum": 1743405120000},
  "y": {"datum": 30, "type": "quantitative", "scale": {"domain": [3.94, 338.0], "nice": false, "zero": false}},
  "y2": {"datum": 70}}},
{"data": {"values": [{"lvl": 70}, {"lvl": 50}, {"lvl": 30}]}, "mark": {"type": "rule", "color": "#787b86", "strokeWidth": 1.5, "strokeDash": [8, 8]},
 "encoding": {"x": {"datum": 1707542812800, "type": "temporal", "scale": {"type": "utc", "domain": [1707542812800, 1745055360000]}},
  "x2": {"datum": 1743405120000},
  "y": {"field": "lvl", "type": "quantitative", "scale": {"domain": [3.94, 338.0], "nice": false, "zero": false}}}},
{"data": {"name": "rsi"}, "mark": {"type": "line", "color": "#7e57c2", "strokeWidth": 2},
 "encoding": {"x": {"field": "d", "type": "temporal", "scale": {"type": "utc", "domain": [1707542812800, 1745055360000]}},
  "y": {"field": "v", "type": "quantitative", "scale": {"domain": [3.94, 338.0], "nice": false, "zero": false},
   "axis": {"orient": "right", "offset": -96, "title": null, "grid": false, "domain": false, "ticks": false, "tickSize": 0, "labelPadding": 0, "labelAlign": "left", "labelBaseline": "middle",
     "values": [20, 40, 60], "format": ".2f", "labelColor": "#d1d4dc", "labelFontSize": 20, "labelFont": "Inter", "labelOverlap": false, "labelFlush": false}}}},
{"data": {"name": "one"}, "mark": {"type": "rule", "color": "#363a45", "strokeWidth": 2},
 "encoding": {"y": {"datum": 79.15, "type": "quantitative", "scale": {"domain": [3.94, 338.0], "nice": false, "zero": false}}}},
{"data": {"name": "one"}, "mark": {"type": "rule", "color": "#e6e6e6", "strokeWidth": 3},
 "encoding": {"y": {"datum": 17.1, "type": "quantitative", "scale": {"domain": [3.94, 338.0], "nice": false, "zero": false}}}},
{"data": {"name": "one"}, "mark": {"type": "rule", "color": "#cfcfcf", "strokeWidth": 2.5},
 "encoding": {"x": {"datum": 1743405120000, "type": "temporal", "scale": {"type": "utc", "domain": [1707542812800, 1745055360000]}}}},
{"data": {"name": "one"}, "mark": {"type": "bar", "orient": "horizontal", "height": 26, "cornerRadiusEnd": 3, "color": "#7e57c2"},
 "encoding": {"x": {"datum": 1743405120000, "type": "temporal", "scale": {"type": "utc", "domain": [1707542812800, 1745055360000]}},
  "x2": {"datum": 1744565040000},
  "y": {"datum": 65.95, "type": "quantitative", "scale": {"domain": [3.94, 338.0], "nice": false, "zero": false}}}},
{"data": {"name": "one"}, "mark": {"type": "text", "text": "65.95", "align": "left", "baseline": "middle", "fontSize": 20, "font": "Inter", "color": "#ffffff"},
 "encoding": {"x": {"datum": 1743628032000, "type": "temporal", "scale": {"type": "utc", "domain": [1707542812800, 1745055360000]}},
  "y": {"datum": 65.95, "type": "quantitative", "scale": {"domain": [3.94, 338.0], "nice": false, "zero": false}}}},
{"data": {"name": "one"}, "mark": {"type": "text", "text": "RSI (14)", "align": "left", "baseline": "middle", "fontSize": 20, "font": "Inter", "color": "#e6e8ec"},
 "encoding": {"x": {"datum": 1707761404800, "type": "temporal", "scale": {"type": "utc", "domain": [1707542812800, 1745055360000]}},
  "y": {"datum": 70.3, "type": "quantitative", "scale": {"domain": [3.94, 338.0], "nice": false, "zero": false}}}},
{"data": {"name": "one"}, "mark": {"type": "text", "text": "65.95", "align": "left", "baseline": "middle", "fontSize": 20, "font": "Inter", "color": "#7e57c2"},
 "encoding": {"x": {"datum": 1708910697600, "type": "temporal", "scale": {"type": "utc", "domain": [1707542812800, 1745055360000]}},
  "y": {"datum": 70.3, "type": "quantitative", "scale": {"domain": [3.94, 338.0], "nice": false, "zero": false}}}},
{"data": {"name": "one"}, "mark": {"type": "text", "text": "17", "align": "left", "baseline": "middle", "fontSize": 27, "font": "Inter", "fontWeight": 900, "color": "#d9dbe0"},
 "encoding": {"x": {"datum": 1707527952000, "type": "temporal", "scale": {"type": "utc", "domain": [1707542812800, 1745055360000]}},
  "y": {"datum": -8.3, "type": "quantitative", "scale": {"domain": [3.94, 338.0], "nice": false, "zero": false}}}},
{"data": {"name": "one"}, "mark": {"type": "text", "text": "TradingView", "align": "left", "baseline": "middle", "fontSize": 23, "font": "Inter", "fontWeight": 500, "color": "#d9dbe0"},
 "encoding": {"x": {"datum": 1708137590400, "type": "temporal", "scale": {"type": "utc", "domain": [1707542812800, 1745055360000]}},
  "y": {"datum": -8.3, "type": "quantitative", "scale": {"domain": [3.94, 338.0], "nice": false, "zero": false}}}}
]
}
],
"resolve": {"scale": {"y": "independent"}}
}
